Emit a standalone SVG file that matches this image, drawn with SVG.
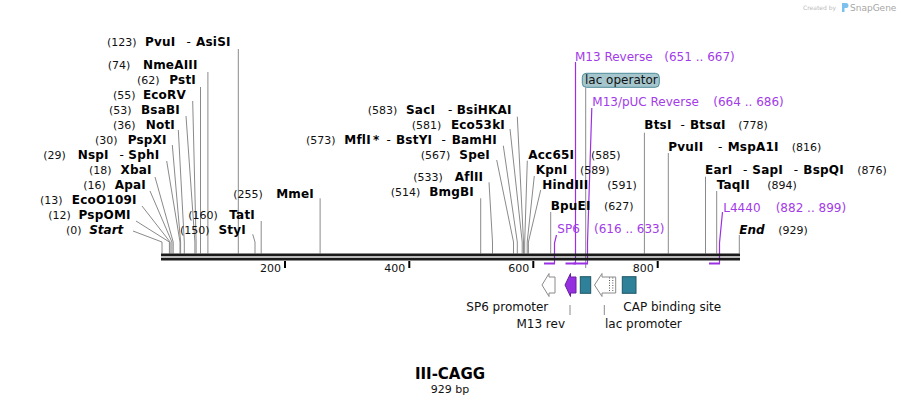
<svg xmlns="http://www.w3.org/2000/svg" width="901" height="404" viewBox="0 0 901 404">
<style>
text{font-family:"DejaVu Sans","Liberation Sans",sans-serif}
.n{font-size:11px;fill:#111}
.b{font-size:12px;font-weight:bold;fill:#000;letter-spacing:0.2px}
.bi{font-size:12px;font-weight:bold;font-style:italic;fill:#000}
.d{font-weight:normal}
.p{font-size:12px;fill:#a23be8}
.f{font-size:12px;fill:#111}
.t{font-size:11px;fill:#111}
.ln{stroke:#8a8a8a;stroke-width:1;fill:none}
.pl{stroke:#9b30e2;stroke-width:1.2;fill:none}
.pb{stroke:#9b30e2;stroke-width:2;fill:none}
.box{fill:#2f8199;stroke:#1d5666;stroke-width:1}
.warr{fill:#fff;stroke:#8a8a8a;stroke-width:1}
</style>
<rect width="901" height="404" fill="#fff"/>

<g id="watermark">
<text x="803" y="10" style="font-size:6px;fill:#bbb">Created by</text>
<path d="M842,3 h4 a2.5,2.5 0 0 1 0,5 h-1.5 v4 h-2.5 z" fill="#7cc0ee"/>
<text x="850" y="10.5" style="font-size:9px;fill:#a6a6a6">SnapGene</text>
</g>

<g id="connectors">
<path class="ln" d="M238.3,49 V253.5"/>
<path class="ln" d="M207.9,72 V253.5"/>
<path class="ln" d="M200.5,87 V253.5"/>
<path class="ln" d="M192.7,101 L196.1,242 V253.5"/>
<path class="ln" d="M186,116 L194.9,242 V253.5"/>
<path class="ln" d="M178.3,130 L184.3,242 V253.5"/>
<path class="ln" d="M172.3,145 L180.6,242 V253.5"/>
<path class="ln" d="M166.7,161 L180,242 V253.5"/>
<path class="ln" d="M155,177 L173.2,242 V253.5"/>
<path class="ln" d="M150,191 L171.9,242 V253.5"/>
<path class="ln" d="M142,206 L170.1,242 V253.5"/>
<path class="ln" d="M136,221 L169.4,242 V253.5"/>
<path class="ln" d="M133,231 L162,242 V253.5"/>
<path class="ln" d="M252.7,234.3 L255,242 V253.5"/>
<path class="ln" d="M261.2,221 V253.5"/>
<path class="ln" d="M320.1,198.3 V253.5"/>
<path class="ln" d="M517.3,116.7 L523.5,242 V253.5"/>
<path class="ln" d="M510,129 L522.2,242 V253.5"/>
<path class="ln" d="M503.3,145.7 L517.3,242 V253.5"/>
<path class="ln" d="M496.7,160 L513.5,242 V253.5"/>
<path class="ln" d="M489,182.3 L492.5,242 V253.5"/>
<path class="ln" d="M480.7,198.3 V253.5"/>
<path class="ln" d="M527.3,160.7 L524.7,242 V253.5"/>
<path class="ln" d="M534.3,176 L527.2,242 V253.5"/>
<path class="ln" d="M540.7,190 L528.4,242 V253.5"/>
<path class="ln" d="M550.7,212 V253.5"/>
<path class="ln" d="M644.4,132.7 V253.5"/>
<path class="ln" d="M668.3,153 V253.5"/>
<path class="ln" d="M705.5,176.7 V253.5"/>
<path class="ln" d="M716.7,191 V253.5"/>
<path class="ln" d="M739.3,235 V253.5"/>
<path class="ln" d="M585.7,87.5 V268"/>
<path class="ln" d="M570,305 V315"/>
<path class="ln" d="M604.3,305 V315"/>
<path class="pl" d="M575.5,62 V263.5"/>
<path class="pb" d="M576,263.5 H565.5"/>
<path class="pl" d="M591.8,108 L587.5,243 V263.5"/>
<path class="pb" d="M588,263.5 H573.5"/>
<path class="pl" d="M556.5,235 L554.5,243 V263.5"/>
<path class="pb" d="M555,263.5 H544"/>
<path class="pl" d="M722.5,212 L719.5,243 V263.5"/>
<path class="pb" d="M720,263.5 H709"/>
</g>

<g id="backbone">
<rect x="161" y="253.5" width="579" height="2.8" fill="#1a1a1a"/>
<rect x="161" y="257.7" width="579" height="2.8" fill="#1a1a1a"/>
<rect x="284" y="261" width="2" height="7" fill="#000"/>
<rect x="408.3" y="261" width="2" height="7" fill="#000"/>
<rect x="532.3" y="261" width="2" height="7" fill="#000"/>
<rect x="656.7" y="261" width="2" height="7" fill="#000"/>
<text class="t" x="281" y="271.5" text-anchor="end">200</text>
<text class="t" x="405.3" y="271.5" text-anchor="end">400</text>
<text class="t" x="529.3" y="271.5" text-anchor="end">600</text>
<text class="t" x="653.7" y="271.5" text-anchor="end">800</text>
</g>

<g id="site-PvuI-AsiSI"><text class="n" x="107" y="46.3">(123)</text><text class="b" y="46.3"><tspan x="145">PvuI</tspan><tspan class="d" x="186.5">-</tspan><tspan x="196">AsiSI</tspan></text></g>
<g id="site-NmeAIII"><text class="n" x="107.7" y="68.5">(74)</text><text class="b" x="197.7" y="68.5" text-anchor="end">NmeAIII</text></g>
<g id="site-PstI"><text class="n" x="137" y="84.3">(62)</text><text class="b" x="196" y="84.3" text-anchor="end">PstI</text></g>
<g id="site-EcoRV"><text class="n" x="113" y="99.3">(55)</text><text class="b" x="186" y="99.3" text-anchor="end">EcoRV</text></g>
<g id="site-BsaBI"><text class="n" x="109" y="114.3">(53)</text><text class="b" x="180" y="114.3" text-anchor="end">BsaBI</text></g>
<g id="site-NotI"><text class="n" x="113" y="129.3">(36)</text><text class="b" x="175" y="129.3" text-anchor="end">NotI</text></g>
<g id="site-PspXI"><text class="n" x="95" y="144.3">(30)</text><text class="b" x="166.7" y="144.3" text-anchor="end">PspXI</text></g>
<g id="site-NspI-SphI"><text class="n" x="43.3" y="159.3">(29)</text><text class="b" y="159.3"><tspan x="77.7">NspI</tspan><tspan class="d" x="119.5">-</tspan><tspan x="128.3">SphI</tspan></text></g>
<g id="site-XbaI"><text class="n" x="89" y="174.3">(18)</text><text class="b" x="151.7" y="174.3" text-anchor="end">XbaI</text></g>
<g id="site-ApaI"><text class="n" x="83.3" y="188.6">(16)</text><text class="b" x="146" y="188.6" text-anchor="end">ApaI</text></g>
<g id="site-EcoO109I"><text class="n" x="40" y="204.3">(13)</text><text class="b" x="136.7" y="204.3" text-anchor="end">EcoO109I</text></g>
<g id="site-PspOMI"><text class="n" x="48.3" y="219.3">(12)</text><text class="b" x="130.7" y="219.3" text-anchor="end">PspOMI</text></g>
<g id="site-Start"><text class="n" x="66" y="233.6">(0)</text><text class="bi" x="123.3" y="233.6" text-anchor="end">Start</text></g>
<g id="site-TatI"><text class="n" x="188.3" y="219.3">(160)</text><text class="b" x="255" y="219.3" text-anchor="end">TatI</text></g>
<g id="site-StyI"><text class="n" x="180" y="234.3">(150)</text><text class="b" x="246" y="234.3" text-anchor="end">StyI</text></g>
<g id="site-MmeI"><text class="n" x="233.3" y="197.6">(255)</text><text class="b" x="314" y="197.6" text-anchor="end">MmeI</text></g>

<g id="site-SacI-BsiHKAI"><text class="n" x="367.7" y="113.6">(583)</text><text class="b" y="113.6"><tspan x="406">SacI</tspan><tspan class="d" x="448">-</tspan><tspan x="456.7">BsiHKAI</tspan></text></g>
<g id="site-Eco53kI"><text class="n" x="411.7" y="129.3">(581)</text><text class="b" x="505" y="129.3" text-anchor="end">Eco53kI</text></g>
<g id="site-MflI-BstYI-BamHI"><text class="n" x="306" y="143.6">(573)</text><text class="b" y="143.6"><tspan x="344.3">MflI</tspan><tspan x="373">*</tspan><tspan class="d" x="386.5">-</tspan><tspan x="396">BstYI</tspan><tspan class="d" x="441.5">-</tspan><tspan x="451.7">BamHI</tspan></text></g>
<g id="site-SpeI"><text class="n" x="420.7" y="159.3">(567)</text><text class="b" x="490" y="159.3" text-anchor="end">SpeI</text></g>
<g id="site-AflII"><text class="n" x="413.3" y="181">(533)</text><text class="b" x="483.3" y="181" text-anchor="end">AflII</text></g>
<g id="site-BmgBI"><text class="n" x="390.7" y="196">(514)</text><text class="b" x="474" y="196" text-anchor="end">BmgBI</text></g>

<g id="site-Acc65I"><text class="b" x="528.3" y="159.3">Acc65I</text><text class="n" x="591" y="159.3">(585)</text></g>
<g id="site-KpnI"><text class="b" x="535.7" y="174.3">KpnI</text><text class="n" x="580" y="174.3">(589)</text></g>
<g id="site-HindIII"><text class="b" x="542.3" y="188.6">HindIII</text><text class="n" x="607.3" y="188.6">(591)</text></g>
<g id="site-BpuEI"><text class="b" x="550.7" y="210.3">BpuEI</text><text class="n" x="604" y="210.3">(627)</text></g>

<g id="site-BtsI-BtsaI"><text class="b" y="129.3"><tspan x="644.3">BtsI</tspan><tspan class="d" x="680.5">-</tspan><tspan x="690">BtsαI</tspan></text><text class="n" x="738.3" y="129.3">(778)</text></g>
<g id="site-PvuII-MspA1I"><text class="b" y="151"><tspan x="668.3">PvuII</tspan><tspan class="d" x="718">-</tspan><tspan x="727.7">MspA1I</tspan></text><text class="n" x="791.7" y="151">(816)</text></g>
<g id="site-EarI-SapI-BspQI"><text class="b" y="174.3"><tspan x="705">EarI</tspan><tspan class="d" x="743">-</tspan><tspan x="752.3">SapI</tspan><tspan class="d" x="793.8">-</tspan><tspan x="803.3">BspQI</tspan></text><text class="n" x="857.3" y="174.3">(876)</text></g>
<g id="site-TaqII"><text class="b" x="716.7" y="189.3">TaqII</text><text class="n" x="767.3" y="189.3">(894)</text></g>
<g id="site-End"><text class="bi" x="739.3" y="233.6">End</text><text class="n" x="778.3" y="233.6">(929)</text></g>

<g id="primer-M13-Reverse"><text class="p" x="575" y="61">M13 Reverse</text><text class="p" x="664.3" y="61">(651 .. 667)</text></g>
<g id="primer-M13-pUC-Reverse"><text class="p" x="592.3" y="106">M13/pUC Reverse</text><text class="p" x="713.3" y="106">(664 .. 686)</text></g>
<g id="primer-SP6"><text class="p" x="557.3" y="233.3">SP6</text><text class="p" x="594" y="233.3">(616 .. 633)</text></g>
<g id="primer-L4440"><text class="p" x="723.3" y="211.6">L4440</text><text class="p" x="775.7" y="211.6">(882 .. 899)</text></g>

<g id="label-lac-operator">
<rect x="582.3" y="73.3" width="77" height="14" rx="4" fill="#a5c6cd" stroke="#4e8d99" stroke-width="1"/>
<text class="f" x="585" y="84.3">lac operator</text>
</g>

<g id="feature-SP6-promoter">
<path class="warr" d="M555,277 H549 V273.5 L542,285 L549,296.5 V293 H555 Z"/>
<text class="f" x="548.3" y="311" text-anchor="end">SP6 promoter</text>
</g>
<g id="feature-M13-rev">
<path d="M576,277 H570.5 V273.5 L565,285 L570.5,296.5 V293 H576 Z" fill="#9530e0" stroke="#6a1f9e" stroke-width="1"/>
<text class="f" x="565" y="328" text-anchor="end">M13 rev</text>
</g>
<g id="feature-lac-operator">
<rect class="box" x="580.3" y="276.7" width="10.4" height="16.6"/>
</g>
<g id="feature-lac-promoter">
<path class="warr" d="M615.7,277 H602 V273.5 L594.5,285 L602,296.5 V293 H615.7 Z"/>
<path d="M609.5,277.5 V292.5 M612.8,277.5 V292.5" stroke="#555" stroke-width="1" stroke-dasharray="1,1.5" fill="none"/>
<text class="f" x="605" y="328">lac promoter</text>
</g>
<g id="feature-CAP-binding-site">
<rect class="box" x="622.3" y="276.7" width="13.7" height="16.6"/>
<text class="f" x="623.3" y="311">CAP binding site</text>
</g>

<g id="title">
<text x="450" y="379" text-anchor="middle" style="font-size:15px;font-weight:bold;fill:#000">III-CAGG</text>
<text x="450" y="392.5" text-anchor="middle" class="t">929 bp</text>
</g>
</svg>
